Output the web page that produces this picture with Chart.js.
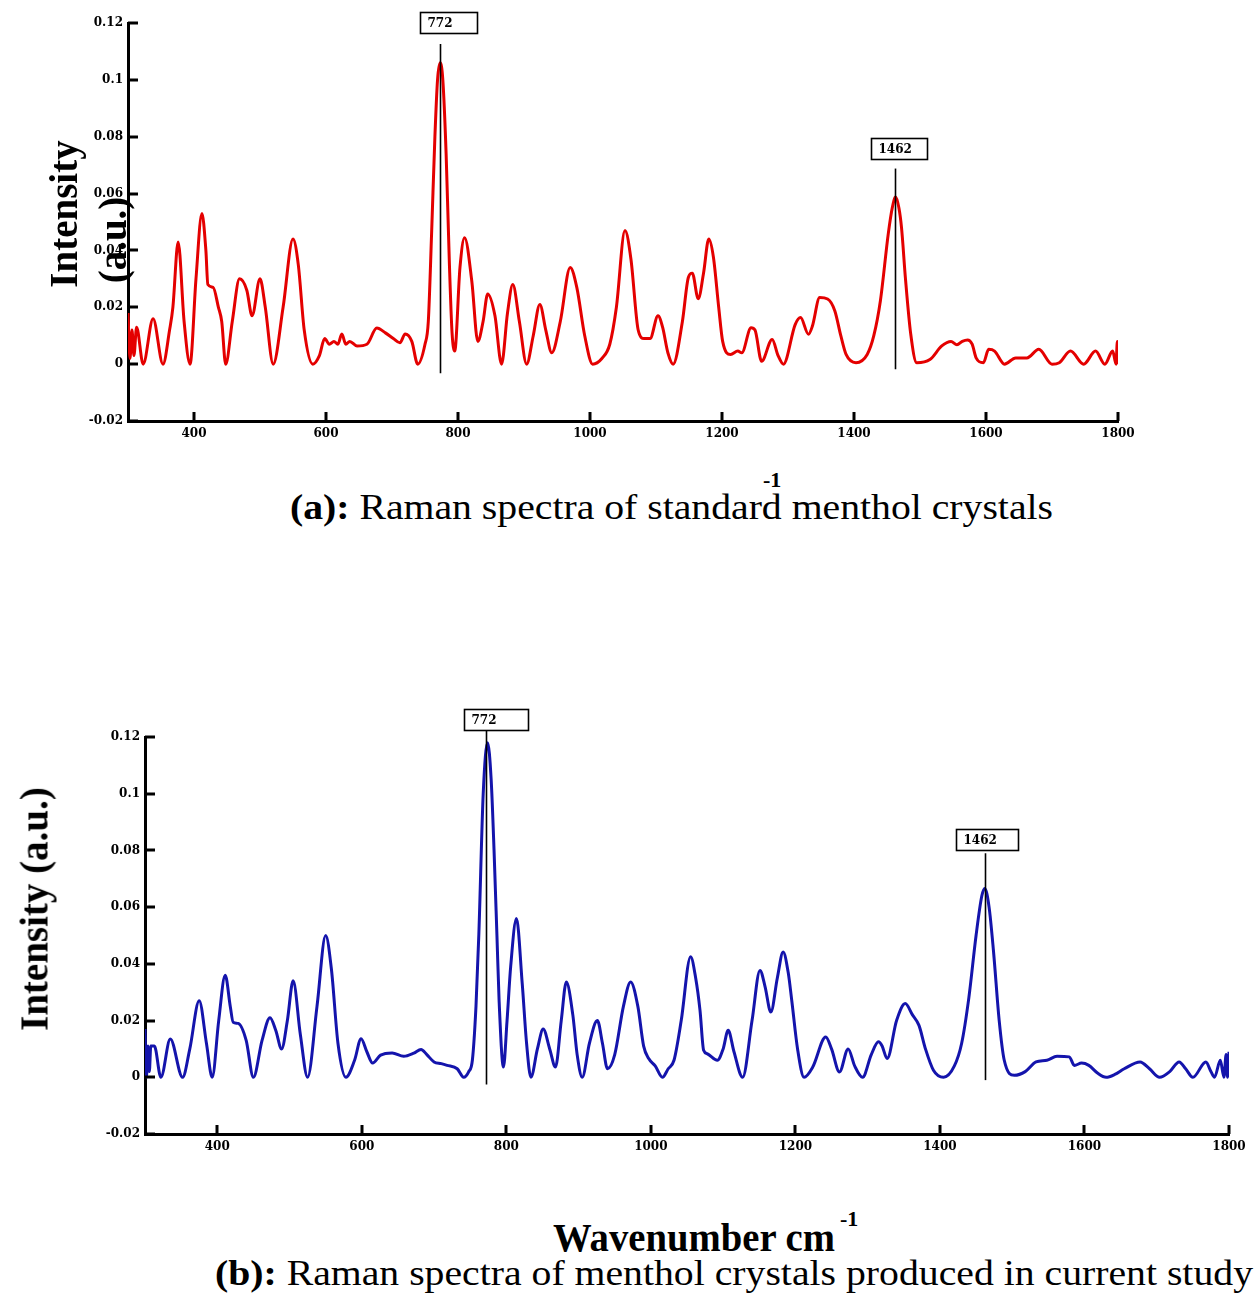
<!DOCTYPE html>
<html><head><meta charset="utf-8">
<script src="https://cdn.jsdelivr.net/npm/chart.js@4.4.1/dist/chart.umd.min.js"></script>
<style>
html,body{margin:0;padding:0;background:#fff;width:1255px;height:1294px;overflow:hidden;position:relative}
.c{position:absolute}
.t{position:absolute;font-family:"Liberation Serif","Times New Roman",serif;color:#000;white-space:nowrap;line-height:1;transform-origin:0 50%}
.r{position:absolute;font-family:"Liberation Serif","Times New Roman",serif;font-weight:bold;color:#000;white-space:nowrap;line-height:1}
</style></head><body>
<div class="c" style="left:0;top:0;width:1160px;height:451px"><canvas id="ca"></canvas></div>
<div class="c" style="left:0;top:700px;width:1255px;height:464px"><canvas id="cb"></canvas></div>

<div class="r" style="left:63px;top:214px;font-size:39px;transform:translate(-50%,-50%) rotate(-90deg)">Intensity</div>
<div class="r" style="left:112px;top:240px;font-size:39px;transform:translate(-50%,-50%) rotate(-90deg)">(a.u.)</div>
<div class="r" style="left:34px;top:909px;font-size:39px;transform:translate(-50%,-50%) rotate(-90deg)">Intensity (a.u.)</div>

<div class="t" id="capA" data-w="763" style="left:290px;top:490px;font-size:35px"><b>(a):</b> Raman spectra of standard menthol crystals</div>
<div class="t" style="left:763px;top:469px;font-size:22px;font-weight:bold">-1</div>
<div class="t" id="wav" data-w="282" style="left:553px;top:1218px;font-size:39px;font-weight:bold">Wavenumber cm</div>
<div class="t" style="left:840px;top:1208px;font-size:22px;font-weight:bold">-1</div>
<div class="t" id="capB" data-w="1038" style="left:215px;top:1256px;font-size:35px"><b>(b):</b> Raman spectra of menthol crystals produced in current study</div>

<script>
// ---- Data ----
const wavenumberA = [300,303,306,309,313,323,338,353,363,368,376,385,394,403,412,418,421,429,437,442,448,458,469,480,488,500,508,520,535,550,558,567,580,590,598,605,612,618,624,630,636,647,662,677,690,702,712,720,730,739,750,755,760,765,769,773,777,782,787,791,795,803,810,821,830,838,845,856,866,875,883,893,904,914,924,933,942,955,970,980,992,1004,1018,1030,1040,1053,1062,1073,1082,1091,1103,1110,1118,1126,1140,1149,1155,1164,1172,1180,1187,1195,1201,1213,1224,1230,1244,1250,1260,1276,1285,1293,1311,1319,1331,1337,1348,1360,1371,1380,1388,1403,1420,1430,1440,1452,1458,1463,1468,1472,1478,1486,1495,1515,1533,1547,1556,1564,1572,1579,1585,1596,1604,1613,1628,1645,1662,1680,1700,1711,1728,1748,1766,1780,1792,1797,1799,1800];
const intensityA = [0.018,0.002,0.012,0.003,0.013,0.0,0.016,0.0,0.012,0.02,0.043,0.015,0.0,0.03,0.053,0.04,0.028,0.027,0.02,0.015,0.0,0.015,0.03,0.026,0.017,0.03,0.02,0.0,0.02,0.044,0.035,0.012,0.0,0.003,0.009,0.007,0.008,0.007,0.0106,0.007,0.008,0.0064,0.007,0.0127,0.011,0.009,0.0075,0.0106,0.008,0.0,0.007,0.015,0.046,0.08,0.1,0.106,0.1,0.074,0.035,0.011,0.0046,0.034,0.0445,0.029,0.008,0.015,0.0247,0.017,0.0,0.018,0.028,0.015,0.0,0.01,0.021,0.012,0.004,0.015,0.034,0.027,0.01,0.0,0.002,0.007,0.02,0.047,0.037,0.012,0.009,0.009,0.017,0.013,0.004,0.0,0.015,0.0305,0.032,0.023,0.032,0.044,0.0376,0.02,0.008,0.0034,0.0046,0.004,0.0128,0.012,0.001,0.0087,0.003,0.0,0.014,0.0164,0.0105,0.0134,0.0234,0.0229,0.0187,0.01,0.0034,0.0005,0.0034,0.01,0.0223,0.046,0.055,0.0588,0.055,0.048,0.03,0.0105,0.0005,0.0016,0.0064,0.008,0.0068,0.008,0.0085,0.007,0.0022,0.0005,0.0052,0.0046,0.0,0.0022,0.0022,0.0052,0.0,0.0005,0.0046,0.0,0.0046,0.0,0.0046,0.0,0.008,0.0];

const wavenumberB = [300,302,304,306,308,313,322,335,352,362,375,385,393,402,411,418,422,429,440,450,462,473,481,489,497,505,515,525,538,550,558,567,578,590,599,607,615,626,642,658,672,682,690,700,710,718,732,741,748,753,758,762,768,774,779,783,787,790,796,801,806,814,822,828,834,843,851,860,868,876,883,892,898,905,915,926,933,940,950,962,972,982,990,997,1006,1016,1024,1032,1042,1055,1062,1068,1073,1078,1092,1100,1107,1115,1127,1140,1151,1158,1166,1175,1183,1190,1195,1203,1212,1224,1242,1250,1261,1273,1282,1293,1305,1315,1320,1327,1340,1352,1362,1371,1380,1391,1405,1420,1430,1440,1450,1458,1462,1468,1474,1482,1489,1503,1518,1533,1548,1562,1579,1586,1596,1606,1618,1630,1642,1655,1677,1690,1704,1718,1731,1740,1750,1768,1775,1780,1788,1793,1796,1798,1800];
const intensityB = [0.017,0.0,0.011,0.002,0.011,0.011,0.0,0.0135,0.0,0.01,0.027,0.012,0.0,0.02,0.036,0.025,0.0194,0.019,0.013,0.0,0.013,0.021,0.0165,0.01,0.02,0.034,0.015,0.0,0.025,0.05,0.038,0.012,0.0,0.006,0.0136,0.009,0.005,0.0078,0.0086,0.0074,0.0085,0.0098,0.008,0.0054,0.0048,0.0042,0.003,0.0,0.002,0.006,0.025,0.0507,0.1,0.118,0.105,0.08,0.05,0.027,0.0036,0.02,0.039,0.056,0.033,0.012,0.0,0.01,0.017,0.01,0.0036,0.02,0.0336,0.022,0.008,0.0,0.012,0.02,0.012,0.003,0.008,0.025,0.0336,0.025,0.011,0.0066,0.004,0.0,0.003,0.006,0.02,0.0425,0.035,0.0236,0.0095,0.0083,0.006,0.01,0.0166,0.009,0.0,0.02,0.0377,0.032,0.023,0.035,0.0442,0.037,0.027,0.01,0.0,0.0036,0.0142,0.01,0.0019,0.01,0.004,0.0,0.008,0.0125,0.011,0.0066,0.02,0.026,0.022,0.0183,0.01,0.0025,0.0,0.004,0.0119,0.028,0.05,0.064,0.0666,0.06,0.0448,0.02,0.006,0.0007,0.002,0.0054,0.006,0.0074,0.0072,0.0042,0.005,0.0042,0.0015,0.0,0.001,0.003,0.0054,0.003,0.0,0.002,0.0054,0.003,0.0,0.0054,0.002,0.0,0.006,0.0,0.008,0.0,0.009];

const xTickValues = [400,600,800,1000,1200,1400,1600,1800];
const yTickValues = [-0.02,0,0.02,0.04,0.06,0.08,0.1,0.12];
const yTickLabels = ['-0.02','0','0.02','0.04','0.06','0.08','0.1','0.12'];
const peakPositions = [772,1462];
const peakLabels = ['772','1462'];
const markerTopsA = [0.1126,0.0688];
const markerBottomsA = [-0.0032,-0.0018];
const markerTopsB = [0.1224,0.079];
const markerBottomsB = [-0.0025,-0.001];

function toPoints(xs, ys){ return xs.map((x,i)=>({x:x,y:ys[i]})); }

const decor = {
  id:'decor',
  afterDatasetsDraw(chart, args, o){
    const ctx = chart.ctx, xs = chart.scales.x, ys = chart.scales.y, a = chart.chartArea;
    ctx.save();
    ctx.strokeStyle = '#000';
    ctx.lineWidth = 3;
    xTickValues.forEach(v=>{ const px = Math.round(xs.getPixelForValue(v)); ctx.beginPath(); ctx.moveTo(px, a.bottom); ctx.lineTo(px, a.bottom-9); ctx.stroke(); });
    yTickValues.forEach(v=>{ const py = Math.round(ys.getPixelForValue(v)); ctx.beginPath(); ctx.moveTo(a.left, py); ctx.lineTo(a.left+10, py); ctx.stroke(); });
    o.tops.forEach((top,i)=>{
      const px = Math.round(xs.getPixelForValue(peakPositions[i]))+0.5;
      const y1 = ys.getPixelForValue(top), y0 = ys.getPixelForValue(o.bottoms[i]);
      ctx.lineWidth = 1.6;
      ctx.beginPath(); ctx.moveTo(px,y0); ctx.lineTo(px,y1); ctx.stroke();
      const bw = o.boxW[i], bh = 21, bx = Math.round(px + o.boxDx[i]) + 0.5, by = Math.round(y1 - o.gap[i] - bh) + 0.5;
      ctx.fillStyle = '#fff'; ctx.fillRect(bx,by,bw,bh);
      ctx.lineWidth = 1.6; ctx.strokeRect(bx,by,bw,bh);
      ctx.fillStyle = '#000'; ctx.font = 'bold 12px "DejaVu Serif"';
      ctx.textBaseline = 'middle'; ctx.textAlign = 'left';
      ctx.fillText(peakLabels[i], bx+7, by+bh/2+1);
    });
    ctx.restore();
  }
};

function makeChart(id, xs, ys, color, pad, dec){
  return new Chart(document.getElementById(id), {
    type:'line',
    data:{ datasets:[{ data: toPoints(xs, ys), borderColor: color, borderWidth: 3, pointRadius: 0, cubicInterpolationMode:'monotone', fill:false }] },
    options:{
      responsive:true, maintainAspectRatio:false, animation:false,
      layout:{ padding: pad },
      plugins:{ legend:{display:false}, tooltip:{enabled:false}, decor: dec },
      scales:{
        x:{ type:'linear', min:300, max:1800,
            afterBuildTicks(s){ s.ticks = xTickValues.map(v=>({value:v})); },
            afterFit(s){ s.height = 30; },
            grid:{ display:false, drawTicks:false },
            border:{ display:true, color:'#000', width:3 },
            ticks:{ padding:6, color:'#000', maxRotation:0, autoSkip:false, font:{ family:'"DejaVu Serif"', size:12, weight:'bold' }, callback:(v)=>String(v) } },
        y:{ type:'linear', min:-0.02, max:0.12,
            afterBuildTicks(s){ s.ticks = yTickValues.map(v=>({value:v})); },
            afterFit(s){ s.width = pad.yw; },
            grid:{ display:false, drawTicks:false },
            border:{ display:true, color:'#000', width:3 },
            ticks:{ padding:5, color:'#000', autoSkip:false, font:{ family:'"DejaVu Serif"', size:12, weight:'bold' }, callback:(v,i)=>yTickLabels[i] } }
      }
    },
    plugins:[decor]
  });
}

makeChart('ca', wavenumberA, intensityA, 'rgb(228,0,0)',
  {left:0, top:23, right:42, bottom:0, yw:128},
  {tops:markerTopsA, bottoms:markerBottomsA, boxW:[57,56], boxDx:[-21,-25], gap:[11,10]});
makeChart('cb', wavenumberB, intensityB, 'rgb(20,20,172)',
  {left:0, top:37, right:26, bottom:0, yw:145},
  {tops:markerTopsB, bottoms:markerBottomsB, boxW:[64,62], boxDx:[-23,-30], gap:[0,3]});

document.querySelectorAll('.t[data-w]').forEach(el=>{
  const w = el.getBoundingClientRect().width;
  const target = +el.dataset.w;
  el.style.transform = 'scaleX(' + (target / w) + ')';
});
</script>
</body></html>
